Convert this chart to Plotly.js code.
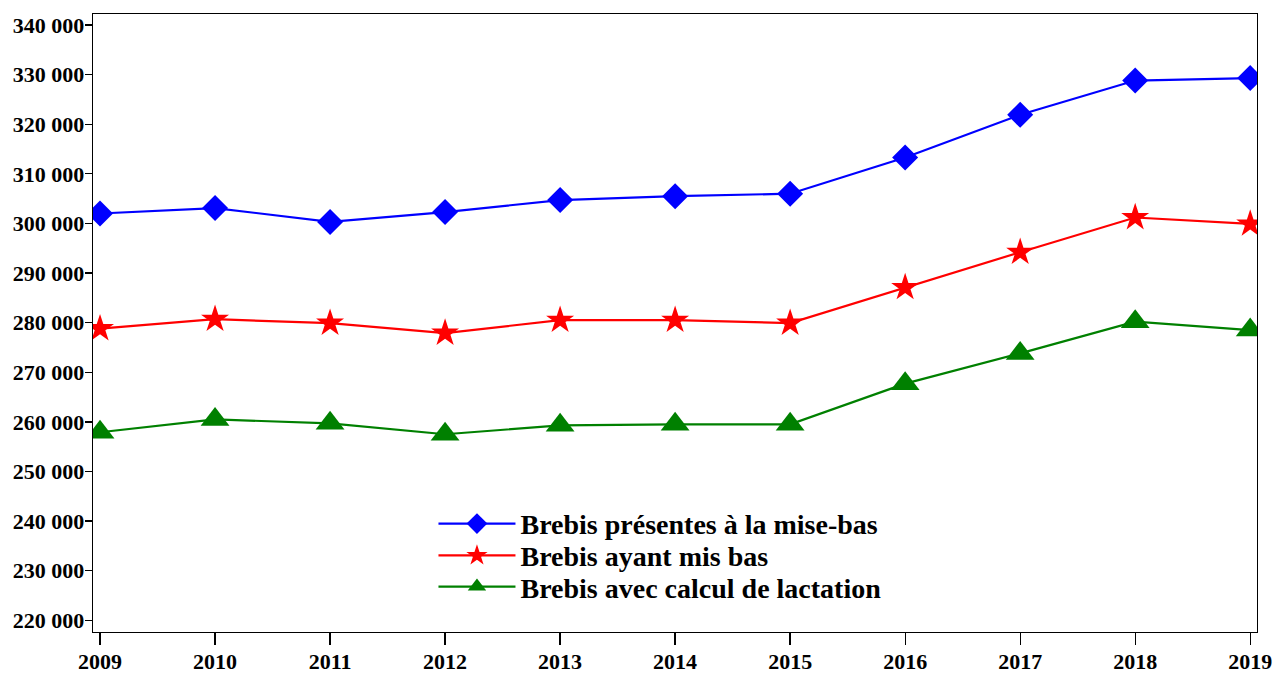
<!DOCTYPE html>
<html>
<head>
<meta charset="utf-8">
<script src="https://cdn.plot.ly/plotly-3.0.1.min.js"></script>
<style>html,body{margin:0;padding:0;background:#fff;}#chart{width:1277px;height:673px;}</style>
</head>
<body>
<div id="chart"></div>
<script>
const years = [2009, 2010, 2011, 2012, 2013, 2014, 2015, 2016, 2017, 2018, 2019];
const presentes = [302000, 303100, 300300, 302300, 304700, 305500, 306000, 313300, 321900, 328800, 329300];
const ayantMisBas = [278800, 280700, 279900, 277900, 280500, 280500, 279900, 287100, 294200, 301200, 299900];
const avecLactation = [257900, 260500, 259700, 257500, 259300, 259500, 259500, 267700, 273800, 280200, 278500];
const seriesNames = ["Brebis présentes à la mise-bas", "Brebis ayant mis bas", "Brebis avec calcul de lactation"];
const yTickVals = [220000, 230000, 240000, 250000, 260000, 270000, 280000, 290000, 300000, 310000, 320000, 330000, 340000];
const yTickText = ["220 000", "230 000", "240 000", "250 000", "260 000", "270 000", "280 000", "290 000", "300 000", "310 000", "320 000", "330 000", "340 000"];

const font = "'Liberation Serif', 'Times New Roman', serif";
const traces = [
  {x: years, y: presentes, name: seriesNames[0], mode: "lines+markers", legend: "legend",
   line: {color: "#0000ff", width: 2.2}, marker: {symbol: "diamond", size: 20, color: "#0000ff"}},
  {x: years, y: ayantMisBas, name: seriesNames[1], mode: "lines+markers", legend: "legend2",
   line: {color: "#ff0000", width: 2.2}, marker: {symbol: "star", size: 21, color: "#ff0000"}},
  {x: years, y: avecLactation, name: seriesNames[2], mode: "lines+markers", legend: "legend3",
   line: {color: "#008000", width: 2.2}, marker: {symbol: "triangle-up", size: 25, color: "#008000"}}
];
const legendFont = {family: font, size: 28, color: "#000", weight: "bold"};
function legendAt(yPos) {
  return {x: 0.2925, y: yPos, xanchor: "left", yanchor: "middle", bgcolor: "rgba(0,0,0,0)",
          font: legendFont, itemwidth: 77, borderwidth: 0};
}
const layout = {
  width: 1277, height: 673,
  margin: {l: 93, r: 20, t: 14, b: 41, pad: 0},
  paper_bgcolor: "#ffffff", plot_bgcolor: "#ffffff",
  font: {family: font, color: "#000", size: 22, weight: "bold"},
  showlegend: true,
  legend: legendAt(0.175),
  legend2: legendAt(0.1235),
  legend3: legendAt(0.073),
  xaxis: {range: [2008.939, 2019.059], tickvals: years, ticktext: years.map(String),
          ticks: "outside", ticklen: 12, tickwidth: 1.3, tickcolor: "#000",
          showline: true, linecolor: "#000", linewidth: 1.3, mirror: true,
          showgrid: false, zeroline: false, ticklabelstandoff: -3,
          tickfont: {family: font, size: 22, color: "#000", weight: "bold"}},
  yaxis: {range: [217640, 342220], tickvals: yTickVals, ticktext: yTickText,
          ticks: "outside", ticklen: 7, tickwidth: 1.3, tickcolor: "#000",
          showline: true, linecolor: "#000", linewidth: 1.3, mirror: true,
          showgrid: false, zeroline: false, ticklabelstandoff: -4,
          tickfont: {family: font, size: 22, color: "#000", weight: "bold"}}
};
Plotly.newPlot("chart", traces, layout, {displayModeBar: false, staticPlot: true});
</script>
</body>
</html>
